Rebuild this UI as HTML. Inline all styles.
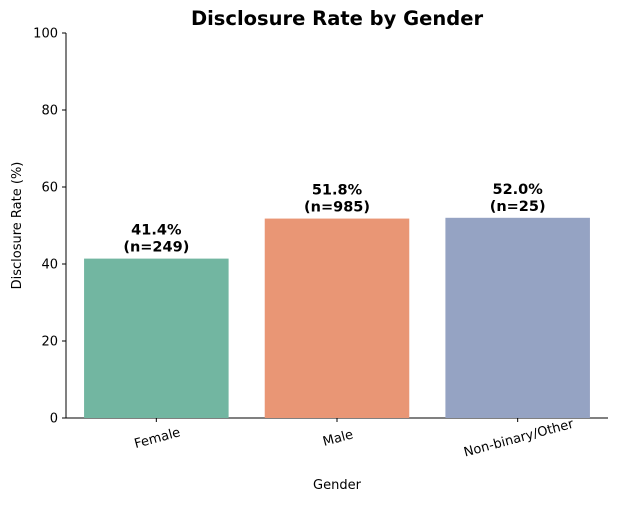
<!DOCTYPE html>
<html><head><meta charset="utf-8"><style>
body{margin:0;background:#fff;}
svg text{font-family:"DejaVu Sans","Liberation Sans",sans-serif;}
</style></head><body>
<svg id="chart" width="618" height="502" viewBox="0 0 618 502" xmlns="http://www.w3.org/2000/svg">
<text x="337" y="25" text-anchor="middle" font-size="19.5" font-weight="bold">Disclosure Rate by Gender</text>
<g id="axes"></g>
<g id="bars"></g>
<text x="337" y="489" text-anchor="middle" font-size="13">Gender</text>
<text transform="translate(21,225.5) rotate(-90)" text-anchor="middle" font-size="13">Disclosure Rate (%)</text>
</svg>
<script>
const categories = ["Female","Male","Non-binary/Other"];
const rates = [41.4, 51.8, 52.0];
const counts = [249, 985, 25];
const yTicks = [0,20,40,60,80,100];
const colors = ["#72b6a1","#e99675","#95a3c3"];

const NS="http://www.w3.org/2000/svg";
const L=66,R=608,T=33,B=418;
const y=v=>B-(v/100)*(B-T);
const band=(R-L)/categories.length;
const xc=i=>L+band*(i+0.5);
function mk(tag,attrs,parent,text){const e=document.createElementNS(NS,tag);for(const k in attrs)e.setAttribute(k,attrs[k]);if(text!==undefined)e.textContent=text;parent.appendChild(e);return e;}
const ax=document.getElementById('axes'), bars=document.getElementById('bars');
const yl=mk('line',{x1:L,y1:T,x2:L,y2:B,stroke:'#000','stroke-width':1},ax);


const xl=mk('line',{x1:L,y1:B,x2:R,y2:B,stroke:'#000','stroke-width':1},ax);


yTicks.forEach(t=>{
  const tk=mk('line',{x1:L-4,y1:y(t),x2:L,y2:y(t),stroke:'#000'},ax);
  
  
  const tl=mk('text',{x:L-8,y:y(t)+4.5,'text-anchor':'end','font-size':13},ax,String(t));
  
  
});
categories.forEach((c,i)=>{
  const w=band*0.8, top=y(rates[i]);
  const r=mk('rect',{x:xc(i)-w/2,y:top,width:w,height:B-top,fill:colors[i]},bars);
  
  
  const t1=mk('text',{x:xc(i),y:top-24,'text-anchor':'middle','font-size':14.5,'font-weight':'bold'},bars,rates[i].toFixed(1)+'%');
  
  
  const t2=mk('text',{x:xc(i),y:top-7,'text-anchor':'middle','font-size':14.5,'font-weight':'bold'},bars,'(n='+counts[i]+')');
  
  
  const tk=mk('line',{x1:xc(i),y1:B,x2:xc(i),y2:B+4,stroke:'#000'},ax);
  
  
  const xl2=mk('text',{transform:`translate(${xc(i)+2},${B+24}) rotate(-15)`,'text-anchor':'middle','font-size':13},ax,c);
  
  
});
</script>
</body></html>
